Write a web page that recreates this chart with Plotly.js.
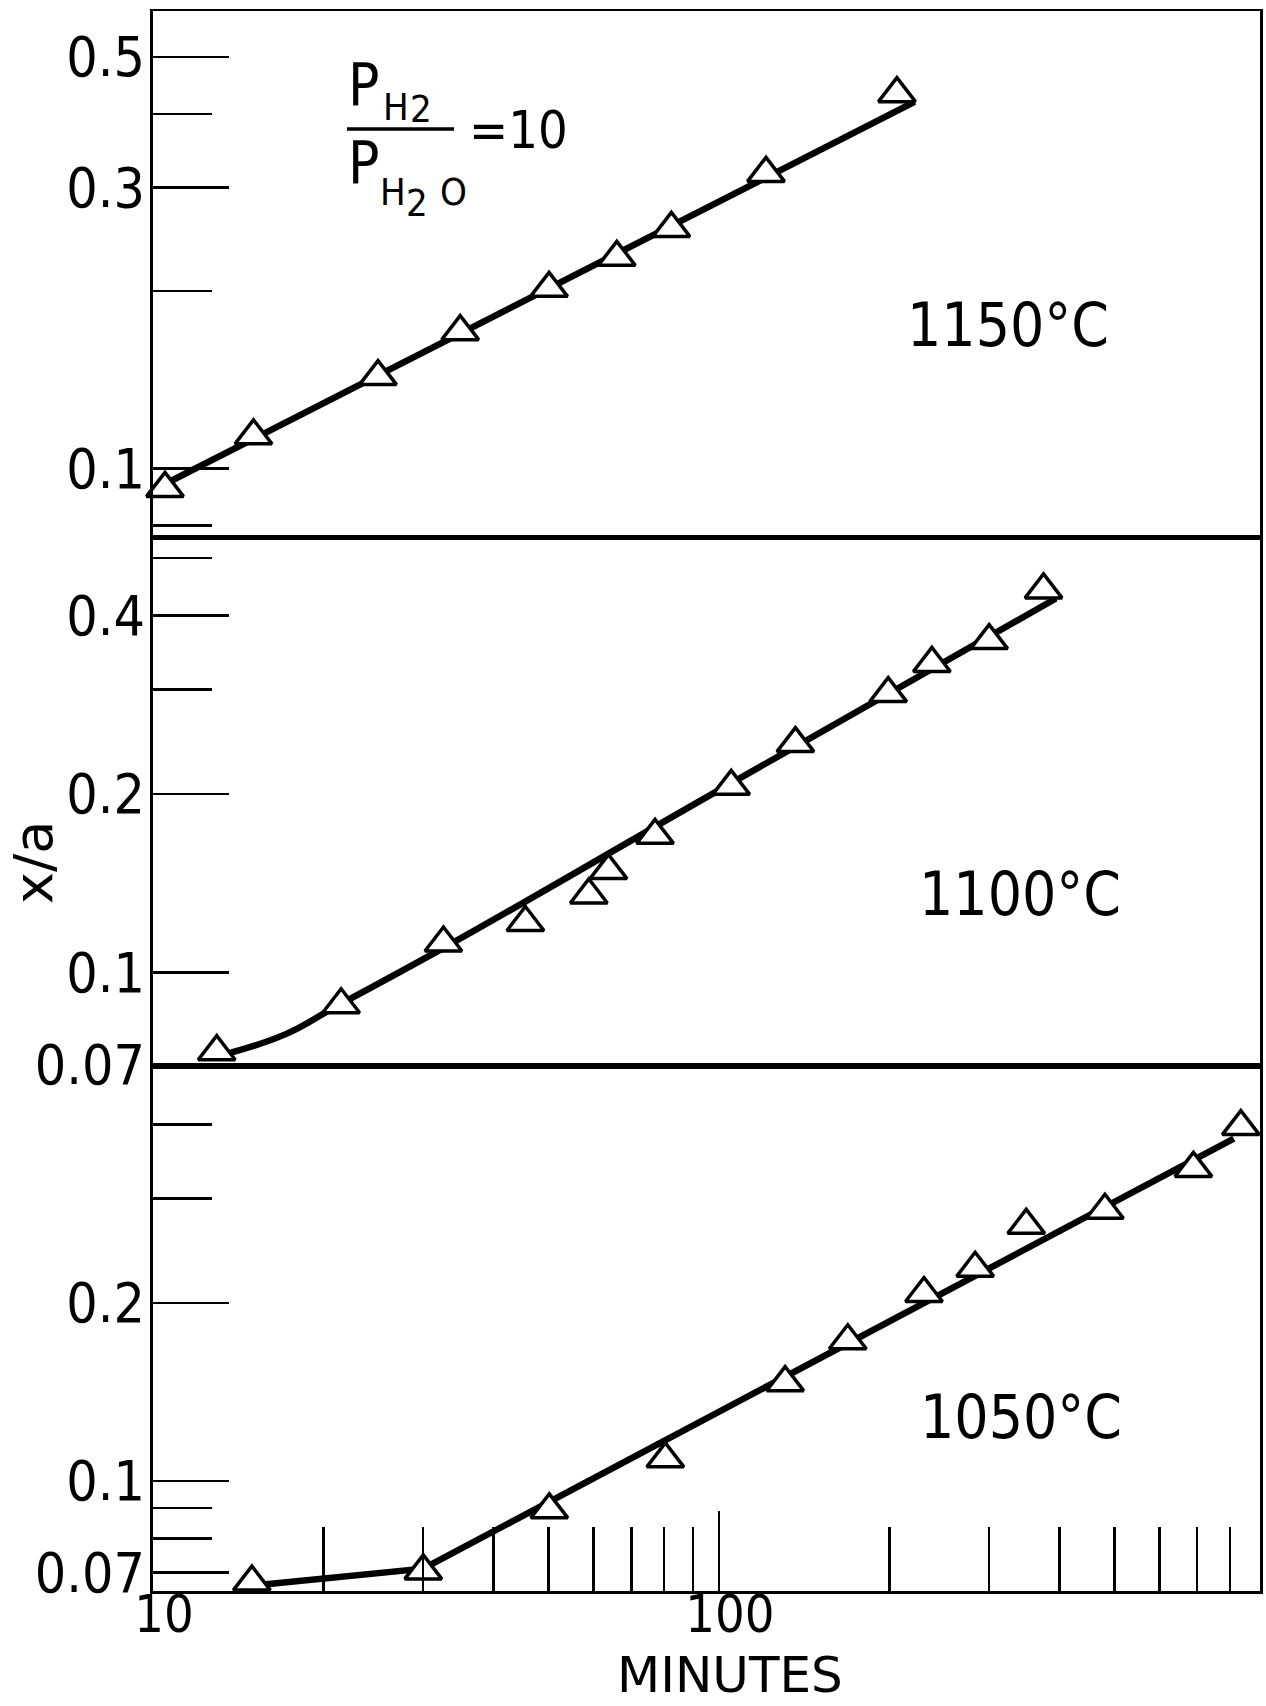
<!DOCTYPE html>
<html>
<head>
<meta charset="utf-8">
<script src="https://cdn.plot.ly/plotly-3.0.1.min.js"></script>
<style>
  html, body { margin: 0; padding: 0; background: #fff; }
  #chart { width: 1266px; height: 1706px; }
</style>
</head>
<body>
<div id="chart"></div>
<script>
// ---- data ----
// 1150 °C panel
const minutes1150 = [10.5, 15.05, 24.98, 34.9, 50.1, 66.0, 82.4, 121.1, 206.3];
const xa1150      = [0.0925, 0.1136, 0.1432, 0.1707, 0.2022, 0.2283, 0.2556, 0.3170, 0.4329];
const fitMinutes1150 = [10.25, 221.6];
const fitXa1150      = [0.0930, 0.4193];

// 1100 °C panel
const minutes1100 = [12.96, 21.5, 32.6, 45.5, 58.9, 63.8, 77.1, 105.1, 136.5, 199.1, 237.8, 300.2, 374.6];
const xa1100      = [0.0735, 0.0882, 0.1121, 0.1214, 0.1351, 0.1485, 0.1703, 0.2060, 0.2432, 0.2953, 0.3319, 0.3627, 0.4416];
const fitMinutes1100 = [13.49, 17.16, 21.0, 33.35, 99.1, 393.9];
const fitXa1100      = [0.0729, 0.0787, 0.0875, 0.1113, 0.2020, 0.4271];

// 1050 °C panel
const minutes1050 = [14.95, 30.03, 50.15, 80.4, 130.9, 168.9, 230.3, 283.6, 349.1, 480.8, 689.2, 835.9];
const xa1050      = [0.0675, 0.0705, 0.0894, 0.1090, 0.1466, 0.1725, 0.2073, 0.2287, 0.2703, 0.2866, 0.3373, 0.3968];
const fitMinutes1050 = [15.53, 30.03, 812.2];
const fitXa1050      = [0.0668, 0.0711, 0.3787];

// tick values / labels
const xMajorTicks = [10, 100];
const xMajorText  = ['10', '100'];
const xMinorTicks = [20, 30, 40, 50, 60, 70, 80, 90, 200, 300, 400, 500, 600, 700, 800];

const y1150Major = [0.1, 0.3, 0.5];
const y1150Text  = ['0.1', '0.3', '0.5'];
const y1150Minor = [0.08, 0.2, 0.4];

const y1100Major = [0.07, 0.1, 0.2, 0.4];
const y1100Text  = ['0.07', '0.1', '0.2', '0.4'];
const y1100Minor = [0.3, 0.5];

const y1050Major = [0.07, 0.1, 0.2];
const y1050Text  = ['0.07', '0.1', '0.2'];
const y1050Minor = [0.08, 0.09, 0.3, 0.4];

const panelLabels = ['1150°C', '1100°C', '1050°C'];

// ---- styling ----
const FONT = 'Liberation Sans Narrow, DejaVu Sans Condensed, Arial Narrow, sans-serif';
const BLACK = '#000';

function lineTrace(x, y, xa, ya, shape) {
  return { x: x, y: y, xaxis: xa, yaxis: ya, type: 'scatter', mode: 'lines',
           line: { color: BLACK, width: 6.5, shape: shape || 'linear', smoothing: 1.2 },
           hoverinfo: 'skip', showlegend: false, cliponaxis: false };
}
function markerTrace(x, y, xa, ya) {
  return { x: x, y: y, xaxis: xa, yaxis: ya, type: 'scatter', mode: 'markers',
           marker: { symbol: 'triangle-up', size: 32, color: '#fff',
                     line: { color: BLACK, width: 3.5 } },
           hoverinfo: 'skip', showlegend: false, cliponaxis: false };
}

const data = [
  lineTrace(fitMinutes1050, fitXa1050, 'x', 'y'),
  markerTrace(minutes1050, xa1050, 'x', 'y'),
  lineTrace(fitMinutes1100, fitXa1100, 'x2', 'y2', 'spline'),
  markerTrace(minutes1100, xa1100, 'x2', 'y2'),
  lineTrace(fitMinutes1150, fitXa1150, 'x3', 'y3'),
  markerTrace(minutes1150, xa1150, 'x3', 'y3')
];

const xRange = [1, 2.956];
const tickFont = { family: FONT, size: 55, color: BLACK };

function yAxis(domain, range, major, text, minor, anchor) {
  return {
    domain: domain, anchor: anchor, type: 'log', range: range,
    tickmode: 'array', tickvals: major, ticktext: text,
    ticks: 'inside', ticklen: 76, tickwidth: 2.5, tickcolor: BLACK,
    minor: { tickmode: 'array', tickvals: minor, ticks: 'inside', ticklen: 59,
             tickwidth: 2.5, tickcolor: BLACK, showgrid: false },
    showline: true, linewidth: 3, linecolor: BLACK, mirror: true,
    showgrid: false, zeroline: false, tickfont: tickFont,
    ticklabelstandoff: -6, fixedrange: true
  };
}
function upperX(anchor) {
  return { anchor: anchor, type: 'log', range: xRange, domain: [0, 1],
           showticklabels: false, ticks: '', showline: true, linewidth: 2.5,
           linecolor: BLACK, mirror: true, showgrid: false, zeroline: false, fixedrange: true };
}

const annFont = (size) => ({ family: FONT, size: size, color: BLACK });
function ann(text, x, y, size, xanchor, extra) {
  return Object.assign({ text: text, x: x, y: y, xref: 'paper', yref: 'paper',
                         xanchor: xanchor || 'center', yanchor: 'middle',
                         showarrow: false, font: annFont(size) }, extra || {});
}

const layout = {
  width: 1266, height: 1706,
  margin: { l: 153, r: 6, t: 11, b: 115, pad: 0 },
  paper_bgcolor: '#fff', plot_bgcolor: '#fff',
  showlegend: false,
  xaxis: {
    anchor: 'y', domain: [0, 1], type: 'log', range: xRange,
    tickmode: 'array', tickvals: xMajorTicks, ticktext: xMajorText,
    ticks: 'inside', ticklen: 80, tickwidth: 2.5, tickcolor: BLACK,
    minor: { tickmode: 'array', tickvals: xMinorTicks, ticks: 'inside', ticklen: 64,
             tickwidth: 2.5, tickcolor: BLACK, showgrid: false },
    showline: true, linewidth: 3, linecolor: BLACK, mirror: true,
    showgrid: false, zeroline: false, tickfont: { family: FONT, size: 52, color: BLACK },
    ticklabelshift: 11, ticklabelstandoff: -24, fixedrange: true
  },
  xaxis2: upperX('y2'),
  xaxis3: upperX('y3'),
  yaxis:  yAxis([0, 0.332], [-1.1858, -0.2998], y1050Major, y1050Text, y1050Minor, 'x'),
  yaxis2: yAxis([0.332, 0.6665], [-1.1585, -0.2673], y1100Major, y1100Text, y1100Minor, 'x2'),
  yaxis3: yAxis([0.6665, 1], [-1.118, -0.2232], y1150Major, y1150Text, y1150Minor, 'x3'),
  shapes: [
    { type: 'line', xref: 'paper', yref: 'paper', x0: 0.1752, x1: 0.2719, y0: 0.9253, y1: 0.9253,
      line: { color: BLACK, width: 3.5 } }
  ],
  annotations: [
    ann(panelLabels[0], 0.7724, 0.8013, 60),
    ann(panelLabels[1], 0.7832, 0.4411, 60),
    ann(panelLabels[2], 0.7841, 0.1101, 60),
    ann('x/a', -0.1075, 0.4614, 54, 'center', { textangle: -90, font: { family: 'DejaVu Sans, sans-serif', size: 54, color: BLACK } }),
    ann('MINUTES', 0.5212, -0.0725, 50, 'center', { yanchor: 'bottom', font: { family: 'DejaVu Sans, sans-serif', size: 50, color: BLACK } }),
    // pressure-ratio label
    ann('P', 0.1906, 0.9532, 58),
    ann('H', 0.2195, 0.9392, 38),
    ann('2', 0.2425, 0.9377, 38),
    ann('=10', 0.2835, 0.9247, 52, 'left'),
    ann('P', 0.1906, 0.9041, 58),
    ann('H', 0.2164, 0.8854, 38),
    ann('2', 0.2389, 0.8782, 38),
    ann('O', 0.2715, 0.8854, 38)
  ]
};

Plotly.newPlot('chart', data, layout, { staticPlot: true, displayModeBar: false });
</script>
</body>
</html>
